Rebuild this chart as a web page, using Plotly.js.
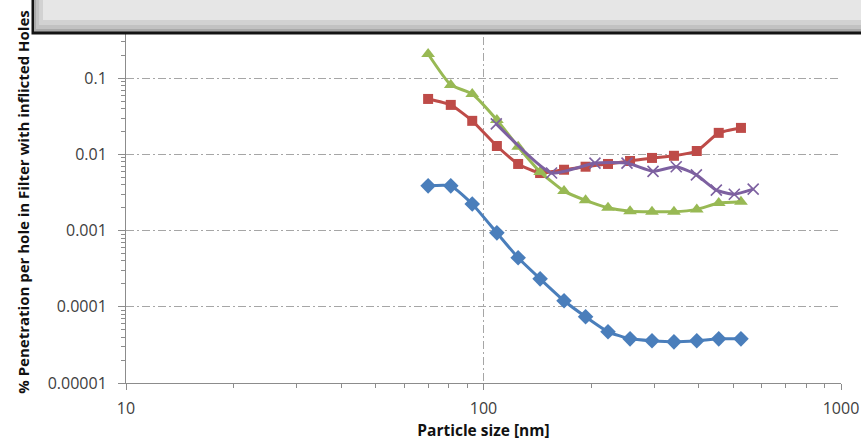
<!DOCTYPE html>
<html>
<head>
<meta charset="utf-8">
<script src="https://cdn.plot.ly/plotly-3.0.1.min.js"></script>
<style>
  html, body { margin: 0; padding: 0; background: #ffffff; }
  #chart { width: 861px; height: 446px; }
</style>
</head>
<body>
<div id="chart"></div>
<script>
// Particle size channels (nm) shared by the first three series
const sizes = [70, 81, 93, 109, 125, 144, 168, 193, 223, 257, 296, 341, 395, 455, 525];

// Penetration per hole (%) for each series
const seriesBlue   = [0.00387, 0.00387, 0.00224, 0.000935, 0.00044, 0.000233, 0.00012, 0.000074, 0.000047, 0.000038, 0.0000358, 0.0000347, 0.0000358, 0.000038, 0.000038];
const seriesRed    = [0.0535, 0.0447, 0.0276, 0.0129, 0.0075, 0.0057, 0.0063, 0.0069, 0.0075, 0.0082, 0.0090, 0.0096, 0.0111, 0.0192, 0.0223];
const seriesGreen  = [0.208, 0.0817, 0.0622, 0.0284, 0.0126, 0.0059, 0.0033, 0.0025, 0.0020, 0.0018, 0.00177, 0.00177, 0.0019, 0.0023, 0.0024];

// The fourth series was measured on its own size grid
const sizesPurple  = [108.6, 155, 205, 252, 298, 346, 394, 448, 503, 568];
const seriesPurple = [0.0252, 0.0057, 0.0077, 0.0077, 0.0060, 0.0069, 0.0054, 0.0034, 0.0030, 0.0035];

// Axis tick labels
const xTickVals = [10, 100, 1000];
const xTickText = ['10', '100', '1000'];
const yTickVals = [0.1, 0.01, 0.001, 0.0001, 0.00001];
const yTickText = ['0.1', '0.01', '0.001', '0.0001', '0.00001'];

const LINE_W = 3;

function series(x, y, color, symbol, size, extraMarker) {
  return {
    x: x, y: y,
    type: 'scatter', mode: 'lines+markers',
    line: { color: color, width: LINE_W, shape: 'spline', smoothing: 0.5 },
    marker: Object.assign({ color: color, symbol: symbol, size: size }, extraMarker || {}),
    showlegend: false,
    hoverinfo: 'x+y'
  };
}

const traces = [
  series(sizes, seriesBlue, '#4A7EBB', 'diamond', 12),
  series(sizes, seriesRed, '#BE4B48', 'square', 10),
  series(sizes, seriesGreen, '#98B954', 'triangle-up', 12),
  series(sizesPurple, seriesPurple, '#7D60A0', 'x-thin', 11, { line: { color: '#7D60A0', width: 1.6 } })
];

const M = { l: 126, r: 20, t: 21, b: 63 };
const W = 861, H = 446;
const plotW = W - M.l - M.r, plotH = H - M.t - M.b;
// pixel -> paper helpers for the header panel
const px = v => (v - M.l) / plotW;
const py = v => (H - M.b - v) / plotH;

const gridDash = '8px,3px,2px,3px';
const tickFont = { family: '"Open Sans", Lato, sans-serif', size: 16, color: '#404040' };
const titleFont = { family: '"Open Sans", Lato, sans-serif', size: 15, color: '#111111', weight: 'bold' };

const layout = {
  width: W, height: H,
  margin: M,
  paper_bgcolor: '#ffffff',
  plot_bgcolor: '#ffffff',
  showlegend: false,
  xaxis: {
    type: 'log',
    range: [1, 3],
    tickmode: 'array', tickvals: xTickVals, ticktext: xTickText,
    ticks: 'outside', ticklen: 6, tickcolor: '#8c8c8c',
    ticklabelstandoff: 5,
    showline: true, linecolor: '#8c8c8c', linewidth: 1,
    showgrid: true, gridcolor: '#a6a6a6', griddash: gridDash, gridwidth: 1,
    minor: { ticks: 'outside', ticklen: 4, tickcolor: '#8c8c8c', dtick: 'D1', showgrid: false },
    tickfont: tickFont,
    title: { text: 'Particle size [nm]', font: Object.assign({}, titleFont, { size: 15.5 }), standoff: 6 },
    zeroline: false
  },
  yaxis: {
    type: 'log',
    range: [-5, -0.2485],
    tickmode: 'array', tickvals: yTickVals, ticktext: yTickText,
    ticks: 'outside', ticklen: 7, tickcolor: '#8c8c8c',
    ticklabelstandoff: 8,
    showline: true, linecolor: '#8c8c8c', linewidth: 1,
    showgrid: true, gridcolor: '#a6a6a6', griddash: gridDash, gridwidth: 1,
    minor: { ticks: 'outside', ticklen: 4, tickcolor: '#8c8c8c', dtick: 'D1', showgrid: false },
    tickfont: tickFont,
    title: { text: '% Penetration per hole in Filter with inflicted Holes', font: titleFont, standoff: 14 },
    zeroline: false
  },
  shapes: [
    // header panel: dark outer frame
    { type: 'rect', xref: 'paper', yref: 'paper', layer: 'above',
      x0: px(31.5), x1: px(870), y0: py(34.5), y1: py(-5),
      fillcolor: '#141414', line: { width: 0 } },
    // bevel band
    { type: 'rect', xref: 'paper', yref: 'paper', layer: 'above',
      x0: px(34), x1: px(870), y0: py(31.5), y1: py(-5),
      fillcolor: '#a9a9a9', line: { width: 0 } },
    { type: 'rect', xref: 'paper', yref: 'paper', layer: 'above',
      x0: px(36), x1: px(870), y0: py(29), y1: py(-5),
      fillcolor: '#c2c2c2', line: { width: 0 } },
    { type: 'rect', xref: 'paper', yref: 'paper', layer: 'above',
      x0: px(39), x1: px(870), y0: py(25), y1: py(-5),
      fillcolor: '#d2d2d2', line: { width: 0 } },
    // inner face
    { type: 'rect', xref: 'paper', yref: 'paper', layer: 'above',
      x0: px(43), x1: px(870), y0: py(20), y1: py(-5),
      fillcolor: '#e6e6e6', line: { width: 0 } }
  ]
};

Plotly.newPlot('chart', traces, layout, { displayModeBar: false, staticPlot: true });
</script>
</body>
</html>
